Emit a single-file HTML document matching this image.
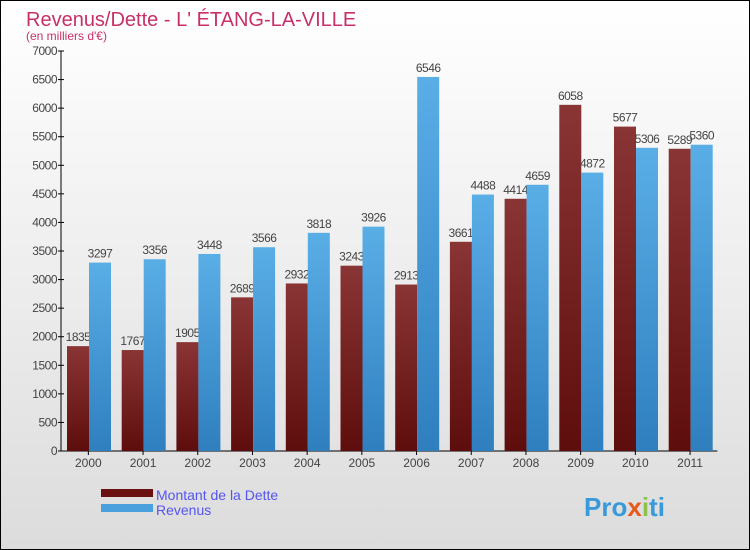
<!DOCTYPE html>
<html><head><meta charset="utf-8"><style>
body{margin:0}
#c{width:748px;height:548px;border:1px solid #000;position:relative;background:linear-gradient(#fff,#dcdcdc);font-family:"Liberation Sans",sans-serif;overflow:hidden}
</style></head><body>
<div id="c">
<svg width="748" height="548" id="s" style="position:absolute;left:0;top:0">
<defs>
<linearGradient id="gd" x1="0" y1="0" x2="0" y2="1"><stop offset="0" stop-color="#8a3535"/><stop offset="1" stop-color="#5e0d0d"/></linearGradient>
<linearGradient id="gr" x1="0" y1="0" x2="0" y2="1"><stop offset="0" stop-color="#5aaee6"/><stop offset="1" stop-color="#2f7fbf"/></linearGradient>
</defs>
<text x="25" y="25" font-size="20" fill="#c8306a">Revenus/Dette - L' ÉTANG-LA-VILLE</text>
<text x="25" y="39" font-size="12" fill="#c8306a">(en milliers d'€)</text>
<g id="g"></g>
<rect x="100" y="488" width="52" height="8" fill="#6a1010"/>
<text x="155" y="499" font-size="14" fill="#5555ee">Montant de la Dette</text>
<rect x="100" y="503" width="52" height="8" fill="#4aa0dd"/>
<text x="155" y="514" font-size="14" fill="#5555ee">Revenus</text>
<text x="583" y="515" font-size="26" font-weight="bold" fill="#3a9ad9">Pro<tspan fill="#e85a1a">x</tspan><tspan fill="#8bc34a">i</tspan>ti</text>
</svg>
</div>
<script>
const years=["2000","2001","2002","2003","2004","2005","2006","2007","2008","2009","2010","2011"];
const dette=[1835,1767,1905,2689,2932,3243,2913,3661,4414,6058,5677,5289];
const revenus=[3297,3356,3448,3566,3818,3926,6546,4488,4659,4872,5306,5360];
const ticks=[0,500,1000,1500,2000,2500,3000,3500,4000,4500,5000,5500,6000,6500,7000];
const NS="http://www.w3.org/2000/svg",g=document.getElementById('g');
const y=v=>450-v*400/7000, x0=60, gw=54.7;
function mk(t,a,txt){const e=document.createElementNS(NS,t);for(const k in a)e.setAttribute(k,a[k]);if(txt!=null)e.textContent=txt;g.appendChild(e);return e;}
let e=mk('line',{x1:x0,y1:50,x2:x0,y2:450,stroke:'#000'});


e=mk('line',{x1:x0,y1:450,x2:x0+gw*12,y2:450,stroke:'#000'});


ticks.forEach(t=>{
 let l=mk('line',{x1:x0-3,y1:y(t),x2:x0+3,y2:y(t),stroke:'#000'});
 
 
 let s=mk('text',{x:x0-4,y:y(t)+4,'font-size':12,fill:'#444','text-anchor':'end','letter-spacing':'-0.5'},t);
 
 
});
years.forEach((yr,i)=>{
 const gx=x0+i*gw;
 let l=mk('line',{x1:gx+gw/2,y1:450,x2:gx+gw/2,y2:454,stroke:'#000'});
 
 
 let s=mk('text',{x:gx+gw/2,y:466,'font-size':12,fill:'#444','text-anchor':'middle'},yr);
 
 
 let lt=mk('text',{x:gx+17,y:y(dette[i])-5,'font-size':12,fill:'#444','text-anchor':'middle','letter-spacing':'-0.5'},dette[i]);
 
 
 let b=mk('rect',{x:gx+6,y:y(dette[i]),width:22,height:450-y(dette[i]),fill:'url(#gd)'});
 
 
 let r=mk('rect',{x:gx+28,y:y(revenus[i]),width:22,height:450-y(revenus[i]),fill:'url(#gr)'});
 
 
 let rt=mk('text',{x:gx+39,y:y(revenus[i])-5,'font-size':12,fill:'#444','text-anchor':'middle','letter-spacing':'-0.5'},revenus[i]);
 
 
});
</script>
</body></html>
